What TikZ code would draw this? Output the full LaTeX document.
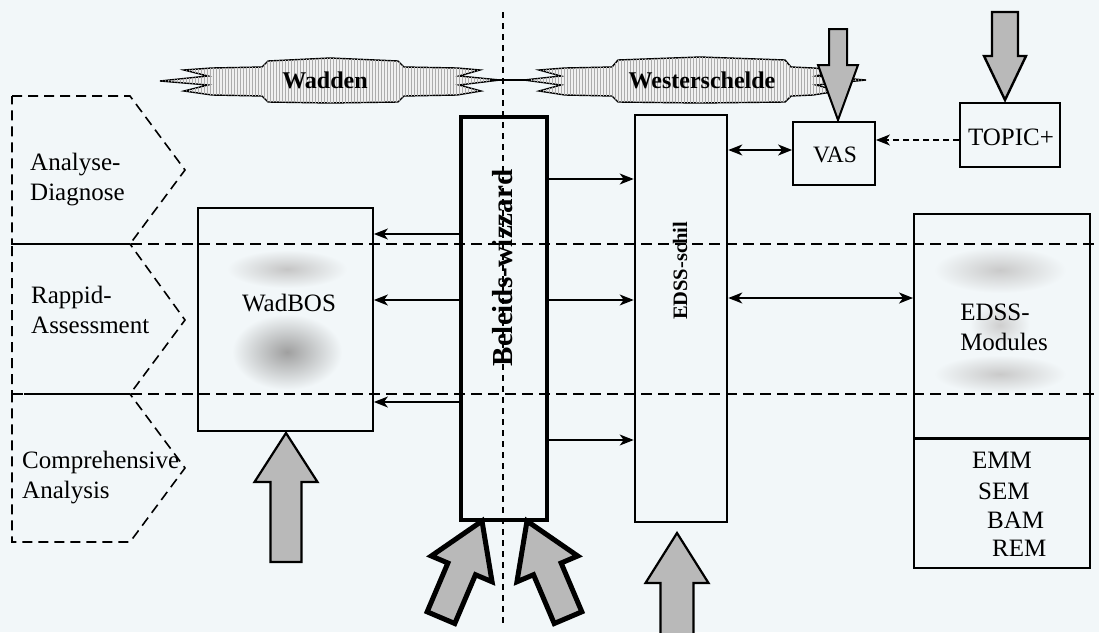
\documentclass[tikz,border=0pt]{standalone}
\usepackage{fontspec}
\setmainfont{Liberation Serif}
\usetikzlibrary{arrows.meta,patterns}
\definecolor{bg}{RGB}{242,247,249}
\newcommand{\blockarr}[8]{%
  \begin{scope}[shift={(#1,#2)},rotate=#3]
    \draw[blk,line width=#8] (0,0) -- ({#6/2},#7) -- ({#5/2},#7) -- ({#5/2},#4)
      -- ({-#5/2},#4) -- ({-#5/2},#7) -- ({-#6/2},#7) -- cycle;
  \end{scope}}
\begin{document}
\begin{tikzpicture}[x=1pt,y=-1pt,
  every node/.style={font=\fontsize{25}{30}\selectfont, inner sep=0pt},
  box/.style={draw, rectangle, inner sep=0pt, line width=1.8pt},
  tipA/.tip={Stealth[length=14pt,width=11pt,inset=4pt]},
  arr/.style={-tipA, line width=1.6pt},
  darr/.style={tipA-tipA, line width=1.6pt},
  dasharr/.style={-tipA, line width=1.6pt, dash pattern=on 6pt off 4pt},
  rib/.style={draw=black, line width=1.4pt, fill=gray!12,
    postaction={pattern=vertical lines, pattern color=gray!65}},
  blk/.style={draw=black, fill=gray!55, line join=miter},
  hdash/.style={line width=1.8pt, dash pattern=on 11pt off 6pt},
  vdash/.style={line width=1.5pt, dash pattern=on 6pt off 5pt},
  chev/.style={line width=1.6pt, dash pattern=on 10pt off 6pt},
  bold24/.style={font=\fontsize{24}{30}\selectfont\bfseries}]
\useasboundingbox (0,0) rectangle (1099,632);
\fill[bg] (0,0) rectangle (1099,632);

% ---- left phase chevrons
\draw[chev] (12,96) -- (130,96) -- (185,170) -- (130,244) -- (12,244) -- cycle;
\draw[chev] (12,244) -- (130,244) -- (185,320) -- (130,394) -- (12,394) -- cycle;
\draw[chev] (12,394) -- (130,394) -- (185,468) -- (130,542) -- (12,542) -- cycle;
\node[anchor=west, align=left] (lab1) at (30,180) {Analyse-\\Diagnose};
\node[anchor=west, align=left] (lab2) at (31,310) {Rappid-\\Assessment};
\node[anchor=west, align=left] (lab3) at (22,478) {Comprehensive\\Analysis};

% ---- ribbons
\path[rib] (212,68) -- (262,67) -- (268,61) -- (330,58) -- (398,61) -- (404,67) -- (457,68)
  -- (480,70) -- (459,76) -- (500,80) -- (459,85) -- (481,91) -- (457,95)
  -- (404,96) -- (398,102) -- (330,103) -- (268,102) -- (262,96) -- (212,95)
  -- (184,91) -- (208,85) -- (160,81) -- (208,76) -- (184,70) -- cycle;
\path[rib] (565,68) -- (612,67) -- (618,60) -- (700,57) -- (785,60) -- (791,67) -- (813,68)
  -- (838,70) -- (816,76) -- (866,80) -- (816,85) -- (838,91) -- (813,95)
  -- (791,96) -- (785,102) -- (700,103) -- (618,102) -- (612,96) -- (565,95)
  -- (539,91) -- (561,85) -- (524,80) -- (561,76) -- (539,70) -- cycle;
\coordinate (ribA) at (490,80);
\coordinate (ribB) at (530,80);
\draw[line width=1.6pt] (ribA) -- (ribB);
\node[bold24] (wadden) at (325,80) {Wadden};
\node[bold24] (wester) at (702,80) {Westerschelde};

% ---- soft shadings
\shade[inner color=gray!45, outer color=bg] (287,269) ellipse (60 and 19);
\shade[inner color=gray!75, outer color=bg] (287,352) ellipse (55 and 38);
\shade[inner color=gray!42, outer color=bg] (1000,270) ellipse (66 and 23);
\shade[inner color=gray!42, outer color=bg] (1000,374) ellipse (66 and 19);
\shade[inner color=gray!38, outer color=bg] (1000,325) ellipse (30 and 22);

% ---- boxes
\node[box, line width=4.5pt, minimum width=86pt, minimum height=403pt] (beleids) at (504,318.5) {};
\node[box, line width=2.6pt, minimum width=92pt, minimum height=407pt] (edss) at (681,318.5) {};
\node[box, minimum width=175pt, minimum height=223pt] (wadbos) at (285.5,319.5) {};
\node[box, line width=2pt, minimum width=176pt, minimum height=354pt] (modules) at (1002,391) {};
\coordinate (divy) at (0,438);
\draw[line width=3pt] (modules.west |- divy) -- (modules.east |- divy);
\node[box, minimum width=82pt, minimum height=63pt] (vas) at (834,153.5) {};
\node[box, minimum width=100pt, minimum height=64pt] (topic) at (1010,135) {};

% ---- texts in boxes
\node[font=\fontsize{29}{30}\selectfont\bfseries, rotate=90] (beltxt) at (503,268) {Beleids-wizzard};
\node[font=\fontsize{20.5}{24}\selectfont\bfseries, rotate=90] (edsstxt) at (680,271) {EDSS-schil};
\node (wadtxt) at (289,303) {WadBOS};
\node[align=left] (modtxt) at (1004,327) {EDSS-\\Modules};
\node[font=\fontsize{23.5}{28}\selectfont] (vastxt) at (835,155) {VAS};
\node (toptxt) at (1011,137) {TOPIC+};
\node[anchor=west] (m1) at (972,460) {EMM};
\node[anchor=west] (m2) at (978,491) {SEM};
\node[anchor=west] (m3) at (987,520) {BAM};
\node[anchor=west] (m4) at (992,548) {REM};

% ---- connector rows
\coordinate (r1) at (0,179);
\coordinate (r2) at (0,300);
\coordinate (r3) at (0,440);
\coordinate (l1) at (0,234);
\coordinate (l2) at (0,300);
\coordinate (l3) at (0,402);
\coordinate (rv) at (0,150);
\coordinate (rt) at (0,140);
\coordinate (rm) at (0,298);
\draw[arr] (beleids.east |- r1) -- (edss.west |- r1);
\draw[arr] (beleids.east |- r2) -- (edss.west |- r2);
\draw[arr] (beleids.east |- r3) -- (edss.west |- r3);
\draw[arr] (beleids.west |- l1) -- (wadbos.east |- l1);
\draw[arr] (beleids.west |- l2) -- (wadbos.east |- l2);
\draw[arr] (beleids.west |- l3) -- (wadbos.east |- l3);
\draw[darr] (edss.east |- rv) -- (vas.west |- rv);
\draw[darr] (edss.east |- rm) -- (modules.west |- rm);
\draw[dasharr] (topic.west |- rt) -- (vas.east |- rt);

% ---- phase separators and axis
\draw[hdash] (12,244) -- (1099,244);
\draw[hdash] (12,394) -- (1099,394);
\draw[vdash] (503,12) -- (503,625);

% ---- block arrows
\blockarr{838}{120}{180}{91}{18}{40}{55}{2pt}
\blockarr{1005}{100}{180}{88}{26}{42}{44}{2.4pt}
\blockarr{286}{433}{0}{129}{31}{63}{49}{2.2pt}
\blockarr{677}{533}{0}{110}{33}{63}{50}{2.2pt}
\blockarr{482}{521}{-23}{105}{30}{66}{52}{5pt}
\blockarr{527}{521}{23}{105}{30}{66}{52}{5pt}
\end{tikzpicture}
\end{document}
